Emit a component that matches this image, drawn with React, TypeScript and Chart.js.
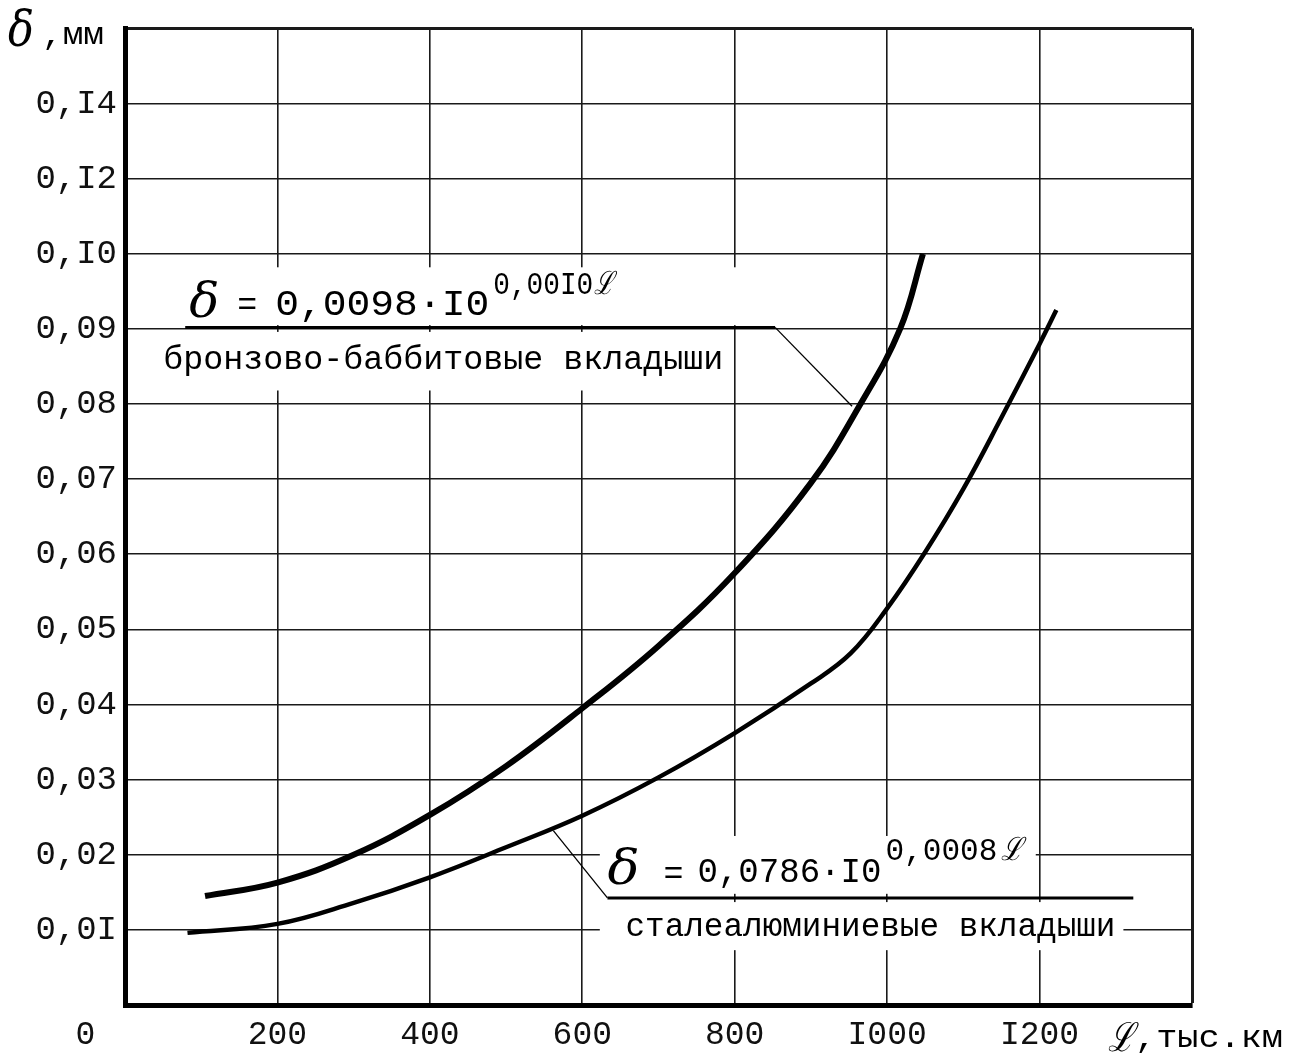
import React, { useEffect, useRef } from "react";
import { Chart, registerables } from "chart.js";

Chart.register(...registerables);

// ---- data ----
// bronze-babbitt bearings (δ = 0,0098·10^0,0010L)
const BRONZE_L = [105, 200, 300, 400, 500, 600, 700, 800, 900, 965, 1017, 1047];
const BRONZE_D = [0.0145, 0.0163, 0.02, 0.0253, 0.0318, 0.0395, 0.0478, 0.0575, 0.0695, 0.08, 0.09, 0.1];
// steel-aluminium bearings (δ = 0,0786·10^0,0008L)
const STEEL_L = [82, 200, 300, 400, 500, 600, 700, 800, 900, 952, 1000, 1050, 1100, 1150, 1200, 1222];
const STEEL_D = [0.0096, 0.0108, 0.0136, 0.017, 0.021, 0.0252, 0.0303, 0.0362, 0.0428, 0.0468, 0.0528, 0.0603, 0.0687, 0.0782, 0.088, 0.0925];

// axis ticks (grid positions) and their printed labels
const X_TICKS = [0, 200, 400, 600, 800, 1000, 1200, 1400];
const X_TICK_LABELS = ["0    ", "200", "400", "600", "800", "I000", "I200", ""];
const Y_TICKS = [0, 0.01, 0.02, 0.03, 0.04, 0.05, 0.06, 0.07, 0.08, 0.09, 0.1, 0.11, 0.12, 0.13];
const Y_TICK_LABELS = ["", "0,0I", "0,02", "0,03", "0,04", "0,05", "0,06", "0,07", "0,08", "0,09", "0,I0", "0,I2", "0,I4", ""];

const X_TITLE = ",тыс.км";
const Y_TITLE = ",мм";
const NOTE1_FORMULA = ["0,0098·I0", "0,00I0"];
const NOTE1_TEXT = "бронзово-баббитовые вкладыши";
const NOTE2_FORMULA = ["0,0786·I0", "0,0008"];
const NOTE2_TEXT = "сталеалюминиевые вкладыши";

const MONO = '"Liberation Mono", "DejaVu Sans Mono", monospace';
const SERIF = '"DejaVu Serif", "Liberation Serif", serif';

function fitText(ctx: CanvasRenderingContext2D, text: string, x: number, y: number, w: number | null) {
  if (w == null) {
    ctx.fillText(text, x, y);
    return;
  }
  const m = ctx.measureText(text).width;
  ctx.save();
  ctx.translate(x, y);
  ctx.scale(w / m, 1);
  ctx.fillText(text, 0, 0);
  ctx.restore();
}

const notesPlugin = {
  id: "notes",
  beforeDatasetsDraw(chart: any) {
    const { ctx, scales } = chart;
    const px = (v: number) => scales.x.getPixelForValue(v);
    const py = (v: number) => scales.y.getPixelForValue(v);
    ctx.save();
    // paper masks over the grid under the annotations
    ctx.fillStyle = "#fff";
    const rect = (x0: number, y0: number, x1: number, y1: number) =>
      ctx.fillRect(px(x0), py(y0), px(x1) - px(x0), py(y1) - py(y0));
    rect(43, 0.0982, 814, 0.0905);
    rect(43, 0.0896, 791, 0.0818);
    rect(623, 0.0225, 1195, 0.0148);
    rect(623, 0.0137, 1310, 0.0073);

    ctx.strokeStyle = "#000";
    ctx.fillStyle = "#000";
    ctx.textBaseline = "alphabetic";
    ctx.textAlign = "left";

    // note 1
    const a1x = px(79), a1y = py(0.0902);
    ctx.lineWidth = 3;
    ctx.beginPath();
    ctx.moveTo(a1x, a1y);
    ctx.lineTo(px(853), a1y);
    ctx.stroke();
    ctx.lineWidth = 1.3;
    ctx.beginPath();
    ctx.moveTo(px(853), a1y);
    ctx.lineTo(px(954), py(0.0797));
    ctx.stroke();
    ctx.font = `italic 48px ${SERIF}`;
    fitText(ctx, "δ", a1x + 4, a1y - 10, 30);
    ctx.font = `34px ${MONO}`;
    fitText(ctx, "=", a1x + 52, a1y - 12, 20);
    ctx.font = `36px ${MONO}`;
    fitText(ctx, NOTE1_FORMULA[0], a1x + 90, a1y - 12, 214);
    ctx.font = `32px ${MONO}`;
    fitText(ctx, NOTE1_FORMULA[1], a1x + 308, a1y - 33, 100);
    ctx.font = `italic 32px ${SERIF}`;
    fitText(ctx, "ℒ", a1x + 409, a1y - 33, 20);
    ctx.font = `34px ${MONO}`;
    fitText(ctx, NOTE1_TEXT, a1x - 22, a1y + 42, 560);

    // note 2
    const a2x = px(633), a2y = py(0.01425);
    ctx.lineWidth = 3;
    ctx.beginPath();
    ctx.moveTo(a2x, a2y);
    ctx.lineTo(px(1323), a2y);
    ctx.stroke();
    ctx.lineWidth = 1.3;
    ctx.beginPath();
    ctx.moveTo(px(562), py(0.0232));
    ctx.lineTo(a2x, a2y);
    ctx.stroke();
    ctx.font = `italic 48px ${SERIF}`;
    fitText(ctx, "δ", a2x + 0, a2y - 14, 32);
    ctx.font = `34px ${MONO}`;
    fitText(ctx, "=", a2x + 56, a2y - 14, 20);
    ctx.font = `35px ${MONO}`;
    fitText(ctx, NOTE2_FORMULA[0], a2x + 90, a2y - 16, 184);
    ctx.font = `32px ${MONO}`;
    fitText(ctx, NOTE2_FORMULA[1], a2x + 278, a2y - 38, 112);
    ctx.font = `italic 32px ${SERIF}`;
    fitText(ctx, "ℒ", a2x + 394, a2y - 38, 22);
    ctx.font = `34px ${MONO}`;
    fitText(ctx, NOTE2_TEXT, a2x + 18, a2y + 38, 490);
    ctx.restore();
  },
  afterDraw(chart: any) {
    const { ctx, chartArea } = chart;
    ctx.save();
    ctx.fillStyle = "#000";
    ctx.textAlign = "left";
    ctx.textBaseline = "alphabetic";
    // y title
    ctx.font = `italic 50px ${SERIF}`;
    fitText(ctx, "δ", 8, 46, 26);
    ctx.font = `31px ${MONO}`;
    fitText(ctx, Y_TITLE, 42, 44, 62);
    // x title
    ctx.font = `italic 40px ${SERIF}`;
    fitText(ctx, "ℒ", chartArea.right - 84, chartArea.bottom + 46, 26);
    ctx.font = `32px ${MONO}`;
    fitText(ctx, X_TITLE, chartArea.right - 57, chartArea.bottom + 42, 148);
    ctx.restore();
  },
};

export default function App() {
  const ref = useRef<HTMLCanvasElement | null>(null);
  useEffect(() => {
    if (!ref.current) return;
    const chart = new Chart(ref.current, {
      type: "line",
      data: {
        datasets: [
          {
            label: "бронзово-баббитовые вкладыши",
            data: BRONZE_L.map((l, i) => ({ x: l, y: BRONZE_D[i] })),
            borderColor: "#000",
            borderWidth: 6,
            pointRadius: 0,
            tension: 0.4,
            fill: false,
          },
          {
            label: "сталеалюминиевые вкладыши",
            data: STEEL_L.map((l, i) => ({ x: l, y: STEEL_D[i] })),
            borderColor: "#000",
            borderWidth: 4.5,
            pointRadius: 0,
            tension: 0.4,
            fill: false,
          },
        ],
      },
      options: {
        animation: false,
        responsive: true,
        maintainAspectRatio: false,
        layout: { padding: { left: 0, top: 20, right: 107, bottom: 0 } },
        plugins: { legend: { display: false }, tooltip: { enabled: false } },
        scales: {
          x: {
            type: "linear",
            min: 0,
            max: 1400,
            afterFit: (s: any) => {
              s.height = 50;
            },
            afterBuildTicks: (s: any) => {
              s.ticks = X_TICKS.map((v) => ({ value: v }));
            },
            ticks: {
              autoSkip: false,
              maxRotation: 0,
              padding: 10,
              color: "#111",
              font: { family: MONO, size: 33 },
              callback: (_v: any, i: number) => X_TICK_LABELS[i],
            },
            grid: {
              color: "#1a1a1a",
              drawTicks: false,
              lineWidth: (c: any) => (c.tick && c.tick.value === 1400 ? 3 : 1.6),
            },
            border: { display: true, color: "#000", width: 5 },
          },
          y: {
            type: "linear",
            min: 0,
            max: 0.13,
            afterFit: (s: any) => {
              s.width = 125;
            },
            afterBuildTicks: (s: any) => {
              s.ticks = Y_TICKS.map((v) => ({ value: v }));
            },
            ticks: {
              autoSkip: false,
              padding: 8,
              color: "#111",
              font: { family: MONO, size: 34 },
              callback: (_v: any, i: number) => Y_TICK_LABELS[i],
            },
            grid: {
              color: "#1a1a1a",
              drawTicks: false,
              lineWidth: (c: any) => (c.tick && Math.abs(c.tick.value - 0.13) < 1e-9 ? 3 : 1.6),
            },
            border: { display: true, color: "#000", width: 5 },
          },
        },
      },
      plugins: [notesPlugin],
    });
    return () => chart.destroy();
  }, []);
  return (
    <div style={{ position: "fixed", left: 0, top: 0, width: 1299, height: 1055, background: "#fff" }}>
      <canvas ref={ref} />
    </div>
  );
}
